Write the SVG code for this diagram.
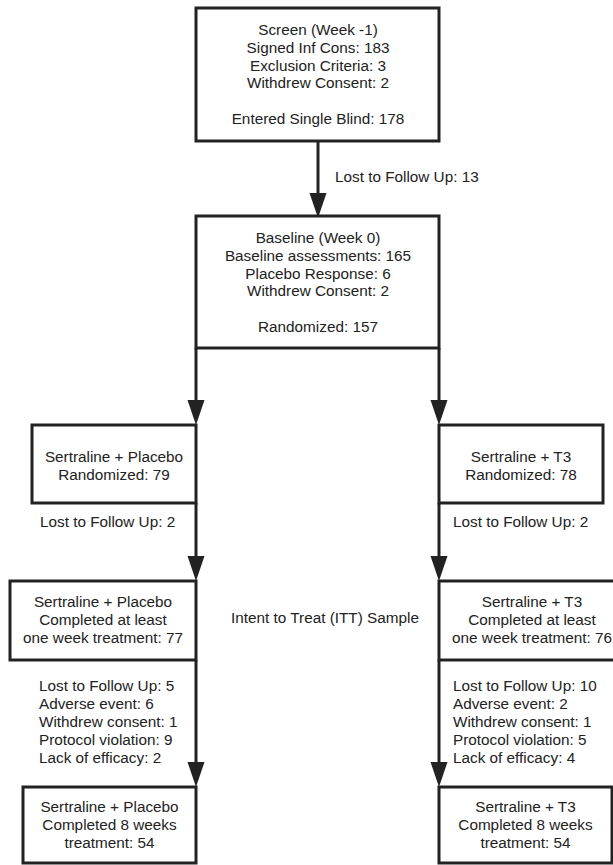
<svg xmlns="http://www.w3.org/2000/svg" width="613" height="865" viewBox="0 0 613 865">
<style>
.box{fill:#fff;stroke:#222;stroke-width:3}
.ln{fill:none;stroke:#222;stroke-width:3}
.ah{fill:#222}
text{font-family:"Liberation Sans",Arial,sans-serif;font-size:15.3px;fill:#222}
.c{text-anchor:middle}
</style>
<rect width="613" height="865" fill="#fff"/>
<g id="connectors">
<line class="ln" x1="318" y1="141" x2="318" y2="196"/>
<polygon class="ah" points="309.5,193 326.5,193 318,218"/>
<line class="ln" x1="196" y1="348" x2="196" y2="403"/>
<polygon class="ah" points="187.5,400 204.5,400 196,425"/>
<line class="ln" x1="439" y1="348" x2="439" y2="403"/>
<polygon class="ah" points="430.5,400 447.5,400 439,425"/>
<line class="ln" x1="196" y1="503" x2="196" y2="559"/>
<polygon class="ah" points="187.5,556 204.5,556 196,581"/>
<line class="ln" x1="439" y1="503" x2="439" y2="559"/>
<polygon class="ah" points="430.5,556 447.5,556 439,581"/>
<line class="ln" x1="196" y1="660" x2="196" y2="765"/>
<polygon class="ah" points="187.5,762 204.5,762 196,787"/>
<line class="ln" x1="439" y1="660" x2="439" y2="765"/>
<polygon class="ah" points="430.5,762 447.5,762 439,787"/>
<text x="335" y="182">Lost to Follow Up: 13</text>
<text x="40" y="527">Lost to Follow Up: 2</text>
<text x="453" y="527">Lost to Follow Up: 2</text>
<text x="39" y="691">Lost to Follow Up: 5</text>
<text x="39" y="709">Adverse event: 6</text>
<text x="39" y="727">Withdrew consent: 1</text>
<text x="39" y="745">Protocol violation: 9</text>
<text x="39" y="763">Lack of efficacy: 2</text>
<text x="453" y="691">Lost to Follow Up: 10</text>
<text x="453" y="709">Adverse event: 2</text>
<text x="453" y="727">Withdrew consent: 1</text>
<text x="453" y="745">Protocol violation: 5</text>
<text x="453" y="763">Lack of efficacy: 4</text>
</g>
<g id="screen">
<rect class="box" x="196" y="8" width="243" height="133"/>
<text class="c" x="318" y="35">Screen (Week -1)</text>
<text class="c" x="318" y="53">Signed Inf Cons: 183</text>
<text class="c" x="318" y="70.5">Exclusion Criteria: 3</text>
<text class="c" x="318" y="88">Withdrew Consent: 2</text>
<text class="c" x="318" y="124">Entered Single Blind: 178</text>
</g>
<g id="baseline">
<rect class="box" x="196" y="216" width="243" height="132"/>
<text class="c" x="318" y="243">Baseline (Week 0)</text>
<text class="c" x="318" y="261">Baseline assessments: 165</text>
<text class="c" x="318" y="279">Placebo Response: 6</text>
<text class="c" x="318" y="296">Withdrew Consent: 2</text>
<text class="c" x="318" y="332">Randomized: 157</text>
</g>
<g id="placebo-rand">
<rect class="box" x="32" y="425" width="164" height="78"/>
<text class="c" x="114" y="462">Sertraline + Placebo</text>
<text class="c" x="114" y="480">Randomized: 79</text>
</g>
<g id="t3-rand">
<rect class="box" x="439" y="425" width="164" height="78"/>
<text class="c" x="521" y="462">Sertraline + T3</text>
<text class="c" x="521" y="480">Randomized: 78</text>
</g>
<g id="itt-label">
<text class="c" x="325" y="623">Intent to Treat (ITT) Sample</text>
</g>
<g id="placebo-week1">
<rect class="box" x="10" y="581" width="186" height="79"/>
<text class="c" x="103" y="607">Sertraline + Placebo</text>
<text class="c" x="103" y="625">Completed at least</text>
<text class="c" x="103" y="643">one week treatment: 77</text>
</g>
<g id="t3-week1">
<rect class="box" x="439" y="581" width="186" height="79"/>
<text class="c" x="532" y="607">Sertraline + T3</text>
<text class="c" x="532" y="625">Completed at least</text>
<text class="c" x="532" y="643">one week treatment: 76</text>
</g>
<g id="placebo-8wk">
<rect class="box" x="23" y="787" width="173" height="76"/>
<text class="c" x="109.5" y="812">Sertraline + Placebo</text>
<text class="c" x="109.5" y="830">Completed 8 weeks</text>
<text class="c" x="109.5" y="848">treatment: 54</text>
</g>
<g id="t3-8wk">
<rect class="box" x="439" y="787" width="173" height="76"/>
<text class="c" x="525.5" y="812">Sertraline + T3</text>
<text class="c" x="525.5" y="830">Completed 8 weeks</text>
<text class="c" x="525.5" y="848">treatment: 54</text>
</g>
</svg>
